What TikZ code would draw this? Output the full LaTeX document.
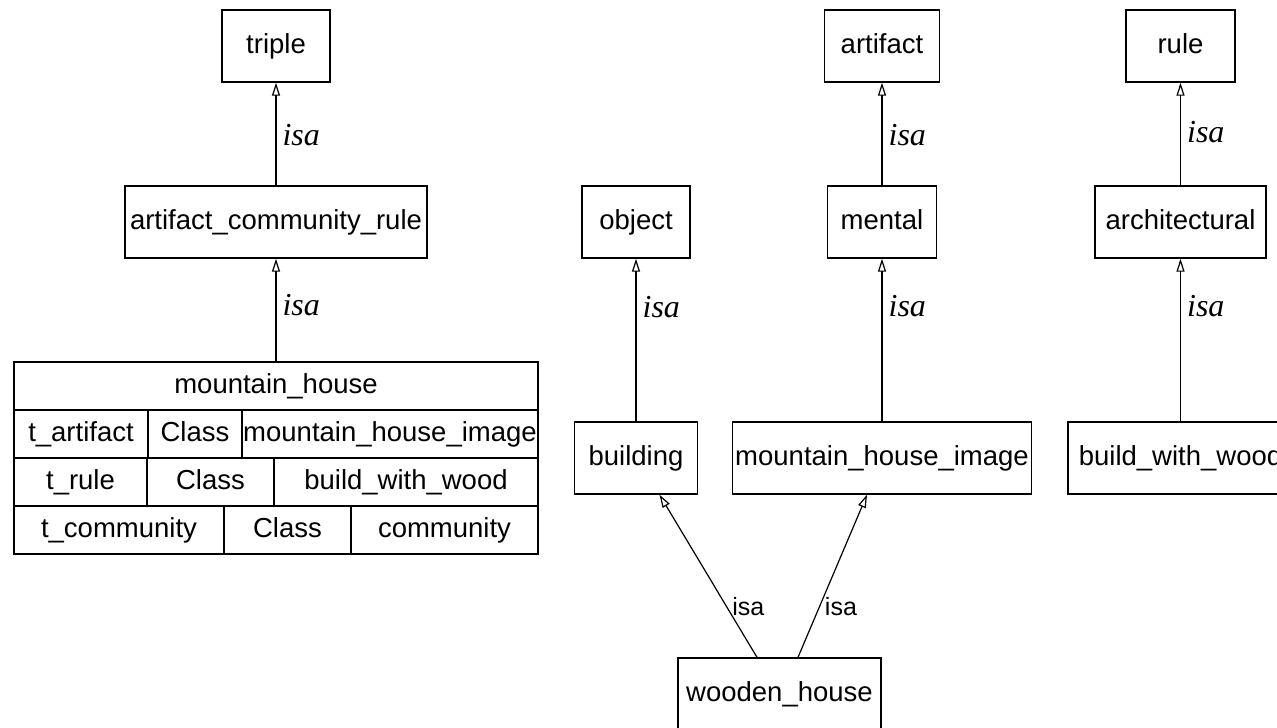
\documentclass[tikz,border=0pt]{standalone}
\usepackage{fontspec}
\setmainfont{Liberation Serif}
\setsansfont{Liberation Sans}
\usetikzlibrary{arrows.meta}

\begin{document}
\begin{tikzpicture}[x=1pt, y=-1pt, line width=1.4pt,
    box/.style = {draw, rectangle, inner sep=0pt, minimum height=72,
                  text height=20pt, text depth=6pt,
                  font=\sffamily\fontsize{27.5}{30}\selectfont},
    cell/.style = {draw, rectangle, inner sep=0pt, minimum height=48,
                  text height=20pt, text depth=6pt,
                  font=\sffamily\fontsize{27.5}{30}\selectfont},
    isa/.style = {right, inner sep=6pt, font=\itshape\fontsize{32}{34}\selectfont},
    isatext/.style = {right, inner sep=5pt, font=\sffamily\fontsize{25}{28}\selectfont},
    isaline/.style = {line width=1.2pt, -{Triangle[open, length=13pt, width=8pt]}}]
        \useasboundingbox (0,0) rectangle (1277,728);
        \clip (0,0) rectangle (1277,728);

        % left column
        \node[box, minimum width=108] (triple) at (276,46) {triple};
        \node[box, minimum width=302] (acr) at (276,222) {artifact\_community\_rule};

        % the instance table
        \node[cell, minimum width=524] (mh) at (276,386) {mountain\_house};
        \node[cell, minimum width=134] (mhName1) at (81,434) {t\_artifact};
        \node[cell, minimum width=94] (mhType1) at (195,434) {Class};
        \node[cell, minimum width=296] (mhValue1) at (390,434) {mountain\_house\_image};
        \node[cell, minimum width=133] (mhName2) at (80.5,482) {t\_rule};
        \node[cell, minimum width=127] (mhType2) at (210.5,482) {Class};
        \node[cell, minimum width=264] (mhValue2) at (406,482) {build\_with\_wood};
        \node[cell, minimum width=210] (mhName3) at (119,530) {t\_community};
        \node[cell, minimum width=127] (mhType3) at (287.5,530) {Class};
        \node[cell, minimum width=187] (mhValue3) at (444.5,530) {community};

        % right part
        \node[box, minimum width=108] (object) at (636,222) {object};
        \node[box, minimum width=123] (building) at (636,458) {building};
        \node[box, minimum width=115] (artifact) at (882,46) {artifact};
        \node[box, minimum width=109] (mental) at (882,222) {mental};
        \node[box, minimum width=299] (mhi) at (882,458) {mountain\_house\_image};
        \node[box, minimum width=109] (rule) at (1180.5,46) {rule};
        \node[box, minimum width=171] (architectural) at (1180.5,222) {architectural};
        \node[box, minimum width=225] (bww) at (1180.5,458) {build\_with\_wood};
        \node[box, minimum width=203] (wooden) at (779.5,694) {wooden\_house};

        \draw[isaline] (acr) -- node[isa, pos=.49]{isa} (triple);
        \draw[isaline] (mh) -- node[isa, pos=.55]{isa} (acr);
        \draw[isaline] (building) -- node[isa, pos=.70]{isa} (object);
        \draw[isaline] (mental) -- node[isa, pos=.49]{isa} (artifact);
        \draw[isaline] (mhi) -- node[isa, pos=.71]{isa} (mental);
        \draw[isaline] (architectural) -- node[isa, pos=.52]{isa} (rule);
        \draw[isaline] (bww) -- node[isa, pos=.71]{isa} (architectural);

        \draw[isaline] ([xshift=-22.5]wooden.north) -- node[isatext, pos=.31]{isa}
            ([xshift=23.5]building.south);
        \draw[isaline] ([xshift=18.5]wooden.north) -- node[isatext, pos=.31]{isa}
            ([xshift=-15]mhi.south);
    \end{tikzpicture}
\end{document}
